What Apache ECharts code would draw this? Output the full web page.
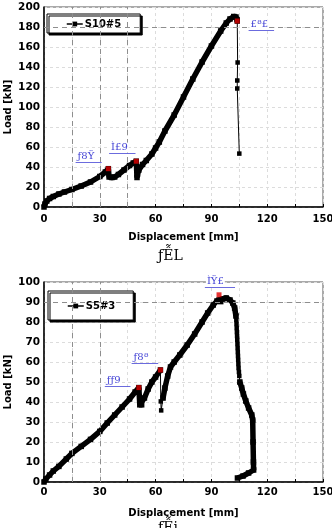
<!DOCTYPE html>
<html>
<head>
<meta charset="utf-8">
<script src="https://cdn.jsdelivr.net/npm/echarts@6/dist/echarts.min.js"></script>
<style>
html, body { margin: 0; padding: 0; background: #fff; }
#main { width: 332px; height: 528px; }
</style>
</head>
<body>
<div id="main"></div>
<script>
// 刻度
var xTicks = [0, 30, 60, 90, 120, 150];
var y1Ticks = [0, 20, 40, 60, 80, 100, 120, 140, 160, 180, 200];
var y2Ticks = [0, 10, 20, 30, 40, 50, 60, 70, 80, 90, 100];

// S10#5 (上图)
var s10Name = 'S10#5';
var s10Curve = [[0, 0], [0.5, 3], [1.5, 6], [3, 8.5], [5, 10.5], [8, 13], [11, 15], [15, 17.5], [20, 21], [25, 25],
    [30, 30.5], [33, 35], [34.6, 38.3], [35, 30], [36.5, 29.5], [38, 30], [40, 32.5], [43, 37], [46, 41.5], [48, 44],
    [49.6, 45.8], [50, 29.5], [50.3, 33], [51, 37], [53, 42.5], [55, 46.5], [58, 53], [60, 59], [62, 65], [65, 76],
    [70, 92], [75, 110], [80, 128], [85, 145], [90, 161], [95, 176], [98, 184], [100, 188], [102, 190.5], [103.2, 190],
    [103.8, 187.5], [103.9, 186]];
var s10Drop = [[103.9, 186], [104.1, 144.5], [103.9, 126.5], [103.9, 118.5], [105, 53.4]];
var s10Red = [[34.6, 38.3], [49.6, 45.8], [103.9, 186]];
// 标注: 文字, 起点x, 终点x, y
var s10Notes = [['ƒ8Ÿ', 17, 31, 44.4], ['Ì£9', 35, 49.2, 53.4], ['£ª£', 110, 123.7, 176.7]];
var s10GuideX = [15, 30, 45];
var s10GuideY = [180];

// S5#3 (下图)
var s5Name = 'S5#3';
var s5Curve = [[0, 0], [1, 1.5], [3, 3.5], [5, 5.5], [8, 7.8], [12, 11.5], [15, 14.3], [20, 17.8], [25, 21.3], [30, 25.3],
    [34, 29.5], [38, 33.5], [42, 37.5], [46, 41.5], [49, 45], [51, 47.2], [51.5, 38.6], [52.5, 38.6], [54, 42],
    [56, 46.5], [58, 50], [60, 52.5], [62.6, 56]];
var s5Jump = [[62.6, 56], [62.8, 40.3], [63, 35.8], [64, 42]];
var s5Rise = [[64, 42], [65, 47], [66.5, 53], [68, 57.5], [70, 60], [73, 63.5], [77, 68.5], [81, 74], [85, 80], [88, 84.5],
    [91, 88.5], [93, 90.5], [94.1, 91], [95, 90.2], [96, 91.5], [98, 92], [100, 91], [101.5, 89.5], [102.5, 87], [103.2, 83]];
var s5Fall = [[103.2, 83], [103.4, 81], [103.5, 79], [103.6, 77], [103.7, 75], [103.8, 73], [103.9, 71], [104, 69],
    [104.1, 67], [104.2, 65], [104.3, 63], [104.4, 61], [104.5, 59], [104.6, 57], [104.8, 55], [105, 53], [105.3, 50]];
var s5Tail = [[105.3, 50], [106.3, 47], [107.2, 44], [108.5, 40.5], [110, 37], [111.7, 33.5], [112.2, 31], [112.4, 20],
    [112.6, 10], [112.7, 6], [110, 4.5], [107, 3], [104, 2]];
var s5Red = [[51, 47.2], [62.6, 56], [94.1, 93.6]];
var s5Notes = [['ÌŸ£', 86.5, 102.7, 97.5], ['ƒ8ª', 47.1, 61.4, 59.5], ['ƒƒ9', 32.7, 46.5, 47.8]];
var s5GuideX = [15, 30];
var s5GuideY = [90];

var captions = ['ƒỄL', 'ƒỄi'];

var FONT = '"DejaVu Sans", sans-serif';
var BLUE = '#4545d6';

function xAxisOf(gi, margin, gap) {
    return {
        type: 'value', gridIndex: gi,
        min: xTicks[0], max: xTicks[xTicks.length - 1], interval: xTicks[1] - xTicks[0],
        name: 'Displacement [mm]', nameLocation: 'middle', nameGap: gap, nameMoveOverlap: false,
        nameTextStyle: { fontFamily: FONT, fontWeight: 'bold', fontSize: 10, color: '#000' },
        axisLine: { lineStyle: { color: '#000', width: 1.5 } },
        axisTick: { inside: true, length: 3, lineStyle: { color: '#000' } },
        minorTick: { show: true, splitNumber: 2, length: 3, lineStyle: { color: '#000' } },
        axisLabel: { margin: margin, fontFamily: FONT, fontWeight: 'bold', fontSize: 10, color: '#000' },
        splitLine: { show: true, lineStyle: { color: '#dcdcdc', type: [3, 3] } },
        minorSplitLine: { show: true, lineStyle: { color: '#dcdcdc', type: [3, 3] } }
    };
}
function yAxisOf(gi, ticks) {
    return {
        type: 'value', gridIndex: gi,
        min: ticks[0], max: ticks[ticks.length - 1], interval: ticks[1] - ticks[0],
        name: 'Load [kN]', nameLocation: 'middle', nameGap: 31, nameMoveOverlap: false,
        nameTextStyle: { fontFamily: FONT, fontWeight: 'bold', fontSize: 10, color: '#000' },
        axisLine: { show: true, lineStyle: { color: '#000', width: 1.5 } },
        axisTick: { show: false },
        axisLabel: { margin: 4, fontFamily: FONT, fontWeight: 'bold', fontSize: 10.5, color: '#000' },
        splitLine: { show: true, lineStyle: { color: '#dcdcdc', type: [3, 3] } }
    };
}
function guides(xs, ys) {
    var d = [];
    xs.forEach(function (v) { d.push({ xAxis: v }); });
    ys.forEach(function (v) { d.push({ yAxis: v }); });
    return {
        silent: true, symbol: ['none', 'none'], label: { show: false },
        lineStyle: { color: '#8e8e8e', type: [5, 4], width: 1 }, data: d
    };
}
function notes(list) {
    return {
        silent: true, symbol: ['none', 'none'],
        lineStyle: { color: BLUE, type: 'solid', width: 0.8 },
        label: {
            position: 'insideStartTop', distance: [1, 1], color: BLUE,
            fontFamily: '"DejaVu Serif", serif', fontSize: 10, backgroundColor: '#fff', padding: [0, 1]
        },
        data: list.map(function (n) {
            return [{ coord: [n[1], n[3]], label: { formatter: n[0] } }, { coord: [n[2], n[3]] }];
        })
    };
}
function thick(name, gi, data) {
    return {
        name: name, type: 'line', xAxisIndex: gi, yAxisIndex: gi, data: data, z: 3,
        symbol: 'rect', symbolSize: 5.5, showSymbol: true,
        lineStyle: { color: '#000', width: 5.5 }, itemStyle: { color: '#000' }
    };
}
function thin(name, gi, data) {
    return {
        name: name, type: 'line', xAxisIndex: gi, yAxisIndex: gi, data: data, z: 2,
        symbol: 'rect', symbolSize: 4.5, showSymbol: true,
        lineStyle: { color: '#000', width: 1 }, itemStyle: { color: '#000' }
    };
}
function red(gi, data, ml) {
    return {
        name: 'peak' + gi, type: 'scatter', xAxisIndex: gi, yAxisIndex: gi, data: data, z: 4,
        symbol: 'rect', symbolSize: 5, itemStyle: { color: '#e00000' }, markLine: ml
    };
}
function legendOf(name, left, top, pad) {
    return {
        data: [name], left: left, top: top, orient: 'vertical',
        padding: pad, itemWidth: 16, itemHeight: 6, itemGap: 0,
        backgroundColor: '#fff', borderColor: '#000', borderWidth: 1, borderRadius: 0,
        shadowColor: '#000', shadowBlur: 0, shadowOffsetX: 2, shadowOffsetY: 2,
        lineStyle: { width: 1.5 },
        textStyle: { fontFamily: FONT, fontWeight: 'bold', fontSize: 10, color: '#000', padding: [0, 0, 0, -3] }
    };
}

var chart = echarts.init(document.getElementById('main'));
var g1 = thin('g1', 0, s10Drop);
g1.markLine = guides(s10GuideX, s10GuideY);
g1.z = 1;
var g2 = thin('g2', 1, s5Jump);
g2.markLine = guides(s5GuideX, s5GuideY);
g2.z = 1;

chart.setOption({
    animation: false,
    backgroundColor: '#fff',
    grid: [
        { left: 44, top: 7, width: 279, height: 200, show: true, borderColor: '#555', borderWidth: 1, outerBoundsMode: 'none', containLabel: false },
        { left: 44, top: 282, width: 279, height: 200, show: true, borderColor: '#555', borderWidth: 1, outerBoundsMode: 'none', containLabel: false }
    ],
    legend: [legendOf(s10Name, 47, 14, [5, 19, 4, 19]), legendOf(s5Name, 48, 291, [10, 18, 9, 19])],
    xAxis: [xAxisOf(0, 7, 25), xAxisOf(1, 5, 26)],
    yAxis: [yAxisOf(0, y1Ticks), yAxisOf(1, y2Ticks)],
    graphic: [
        { type: 'text', left: 158, top: 249, style: { text: captions[0], font: '14px "DejaVu Serif", serif', fill: '#000' } },
        { type: 'text', left: 158, top: 521, style: { text: captions[1], font: '14px "DejaVu Serif", serif', fill: '#000' } }
    ],
    series: [
        thick(s10Name, 0, s10Curve),
        g1,
        red(0, s10Red, notes(s10Notes)),
        thick(s5Name, 1, s5Curve),
        g2,
        thick('s5b', 1, s5Rise),
        thin('s5c', 1, s5Fall),
        thick('s5d', 1, s5Tail),
        red(1, s5Red, notes(s5Notes))
    ]
});
</script>
</body>
</html>
